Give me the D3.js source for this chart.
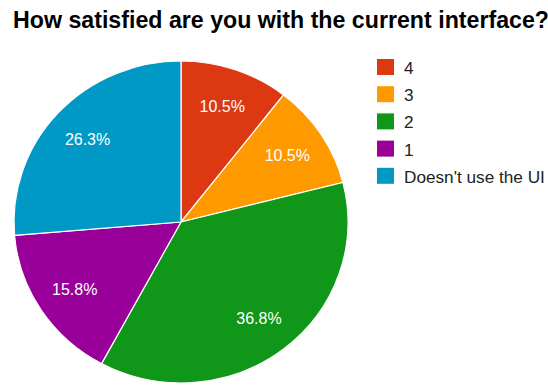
<!DOCTYPE html>
<html>
<head>
<meta charset="utf-8">
<script src="https://cdn.jsdelivr.net/npm/d3@7"></script>
<style>
  body { margin: 0; background: #fff; }
  svg { display: block; font-family: "Liberation Sans", Arial, sans-serif; }
</style>
</head>
<body>
<div id="chart"></div>
<script>
const categories = ["4", "3", "2", "1", "Doesn't use the UI"];
const counts = [2, 2, 7, 3, 5];
const colors = ["#dc3912", "#ff9900", "#109618", "#990099", "#0099c6"];

const width = 548, height = 385;
const cx = 181, cy = 222, radius = 167, squash = 161 / 167;

const svg = d3.select("#chart").append("svg")
    .attr("width", width)
    .attr("height", height);

// title
svg.append("text")
    .attr("x", 13)
    .attr("y", 28)
    .attr("font-size", 23.2)
    .attr("font-weight", "bold")
    .attr("fill", "#000")
    .text("How satisfied are you with the current interface?");

const data = categories.map((c, i) => ({ label: c, value: counts[i], color: colors[i] }));
const total = d3.sum(counts);

const pie = d3.pie().sort(null).value(d => d.value);
const arc = d3.arc().innerRadius(0).outerRadius(radius);
const labelArc = d3.arc().innerRadius(127).outerRadius(127);

const g = svg.append("g").attr("transform", "translate(" + cx + "," + cy + ")");

// picture is a little squashed vertically
g.append("g")
    .attr("transform", "scale(1," + squash + ")")
    .selectAll("path")
    .data(pie(data))
    .enter()
    .append("path")
    .attr("d", arc)
    .attr("fill", d => d.data.color)
    .attr("stroke", "#fff")
    .attr("stroke-width", 1.2)
    .attr("vector-effect", "non-scaling-stroke");

g.selectAll("text")
    .data(pie(data))
    .enter()
    .append("text")
    .attr("transform", d => {
        let c = labelArc.centroid(d);
        return "translate(" + c[0] + "," + c[1] * squash + ")";
    })
    .attr("text-anchor", "middle")
    .attr("dy", "0.35em")
    .attr("font-size", 16)
    .attr("fill", "#fff")
    .text(d => (100 * d.data.value / total).toFixed(1) + "%");

// legend
const legend = svg.append("g").attr("transform", "translate(377,59)");
const item = legend.selectAll("g")
    .data(data)
    .enter()
    .append("g")
    .attr("transform", (d, i) => "translate(0," + i * 27.2 + ")");

item.append("rect")
    .attr("width", 17)
    .attr("height", 16)
    .attr("fill", d => d.color);

item.append("text")
    .attr("x", 27)
    .attr("y", 15)
    .attr("font-size", 17.2)
    .attr("fill", "#222")
    .text(d => d.label);
</script>
</body>
</html>
